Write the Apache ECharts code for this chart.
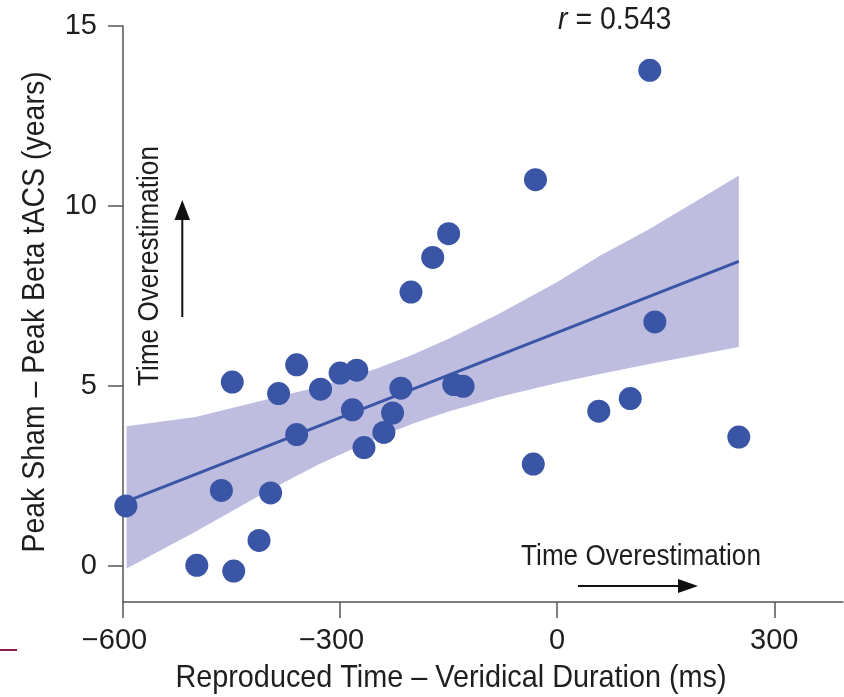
<!DOCTYPE html>
<html><head><meta charset="utf-8">
<script src="https://cdn.jsdelivr.net/npm/echarts@6/dist/echarts.min.js"></script>
<style>html,body{margin:0;padding:0;background:#fff}#c{width:844px;height:697px}</style>
</head><body><div id="c"></div>
<script>
// Scatter points (x: ms, y: years)
const xValues = [-596, -498, -447, -464, -449, -412, -396, -385, -360, -360, -327, -300, -277, -283, -267, -239.5, -227.5, -216, -202, -172, -150, -143, -130, -33, -30, 57.5, 101, 128, 135, 251];
const yValues = [1.67, 0.02, -0.14, 2.10, 5.11, 0.71, 2.03, 4.79, 5.59, 3.65, 4.91, 5.36, 5.44, 4.34, 3.29, 3.71, 4.25, 4.94, 7.61, 8.57, 9.23, 5.04, 4.99, 2.83, 10.73, 4.30, 4.65, 13.77, 6.78, 3.58];
// Regression line end points
const lineX = [-596, 251];
const lineY = [1.79, 8.46];
// Confidence band
const bandX = [-595, -500, -400, -330, -250, -200, -150, -79, 0, 59, 124, 200, 251];
const bandUpper = [3.88, 4.14, 4.63, 4.97, 5.48, 5.87, 6.31, 7.02, 7.89, 8.62, 9.32, 10.23, 10.85];
const bandLower = [-0.07, 0.95, 2.08, 2.82, 3.55, 3.95, 4.29, 4.70, 5.08, 5.33, 5.60, 5.89, 6.08];
// Ticks
const xTicks = [-600, -300, 0, 300];
const yTicks = [0, 5, 10, 15];

const FONT = '"Liberation Sans", Arial, sans-serif';
const TXT = '#1e1e1e';
const AX = '#555';
const BLUE = '#3a55a5';

const chart = echarts.init(document.getElementById('c'), null, {renderer: 'canvas'});
const option = {
  animation: false,
  grid: {left: 123, right: 1, top: 26, bottom: 95},
  xAxis: {
    type: 'value', min: -600, max: 395,
    axisLine: {show: true, onZero: false, lineStyle: {color: AX, width: 1.5}},
    axisTick: {show: true, length: 16, customValues: xTicks, lineStyle: {color: AX, width: 1.5}},
    axisLabel: {
      customValues: xTicks, margin: 24, fontSize: 29, fontFamily: FONT, color: TXT,
      formatter: v => v < 0 ? '{n|\u2212' + Math.abs(v) + '}{s| }' : '{n|' + v + '}',
      rich: {n: {fontSize: 29, fontFamily: FONT, color: TXT}, s: {width: 17, fontSize: 29, fontFamily: FONT}}
    },
    splitLine: {show: false}
  },
  yAxis: {
    type: 'value', min: -1, max: 15,
    axisLine: {show: true, onZero: false, lineStyle: {color: AX, width: 1.5}},
    axisTick: {show: true, length: 15, customValues: yTicks, lineStyle: {color: AX, width: 1.5}},
    axisLabel: {customValues: yTicks, margin: 26, fontSize: 29, fontFamily: FONT, color: TXT},
    splitLine: {show: false}
  },
  series: [
    {
      type: 'custom', z: 1, silent: true,
      data: bandX.map((x, i) => [x, bandUpper[i], bandLower[i]]),
      encode: {x: 0, y: [1, 2]},
      renderItem: (params, api) => {
        if (params.dataIndex !== 0) return null;
        const pts = [];
        for (let i = 0; i < bandX.length; i++) pts.push(api.coord([bandX[i], bandUpper[i]]));
        for (let i = bandX.length - 1; i >= 0; i--) pts.push(api.coord([bandX[i], bandLower[i]]));
        return {type: 'polygon', shape: {points: pts}, style: {fill: '#bebde0'}};
      }
    },
    {
      type: 'line', z: 2, symbol: 'none', silent: true,
      data: lineX.map((x, i) => [x, lineY[i]]),
      lineStyle: {color: BLUE, width: 3}
    },
    {
      type: 'scatter', z: 3, symbolSize: 23,
      data: xValues.map((x, i) => [x, yValues[i]]),
      itemStyle: {color: BLUE, opacity: 1}
    }
  ],
  graphic: [
    {type: 'text', x: 35, y: 312, rotation: Math.PI / 2, scaleX: 0.89,
      style: {text: 'Peak Sham \u2013 Peak Beta tACS (years)', font: '32px ' + FONT, fill: TXT, align: 'center', verticalAlign: 'middle'}},
    {type: 'text', x: 451, y: 678, scaleX: 0.9,
      style: {text: 'Reproduced Time \u2013 Veridical Duration (ms)', font: '32px ' + FONT, fill: TXT, align: 'center', verticalAlign: 'middle'}},
    {type: 'text', x: 150, y: 266, rotation: Math.PI / 2, scaleX: 0.9,
      style: {text: 'Time Overestimation', font: '29px ' + FONT, fill: TXT, align: 'center', verticalAlign: 'middle'}},
    {type: 'text', x: 641, y: 557, scaleX: 0.9,
      style: {text: 'Time Overestimation', font: '29px ' + FONT, fill: TXT, align: 'center', verticalAlign: 'middle'}},
    {type: 'text', x: 558, y: 20, scaleX: 0.92,
      style: {text: '{i|r} = 0.543', font: '31px ' + FONT, fill: TXT, align: 'left', verticalAlign: 'middle',
        rich: {i: {fontStyle: 'italic', fontSize: 31, fontFamily: FONT, fill: TXT}}}},
    {type: 'line', shape: {x1: 182.3, y1: 317, x2: 182.3, y2: 212}, style: {stroke: '#111', lineWidth: 2}},
    {type: 'polygon', shape: {points: [[182.3, 200], [174.5, 220], [190, 220]]}, style: {fill: '#111'}},
    {type: 'line', shape: {x1: 578, y1: 586, x2: 685, y2: 586}, style: {stroke: '#111', lineWidth: 2}},
    {type: 'polygon', shape: {points: [[698, 586], [678, 579], [678, 593]]}, style: {fill: '#111'}},
    {type: 'line', shape: {x1: 0, y1: 650, x2: 17, y2: 650}, style: {stroke: '#8b1b4b', lineWidth: 2}}
  ]
};
chart.setOption(option);
</script>
</body></html>
